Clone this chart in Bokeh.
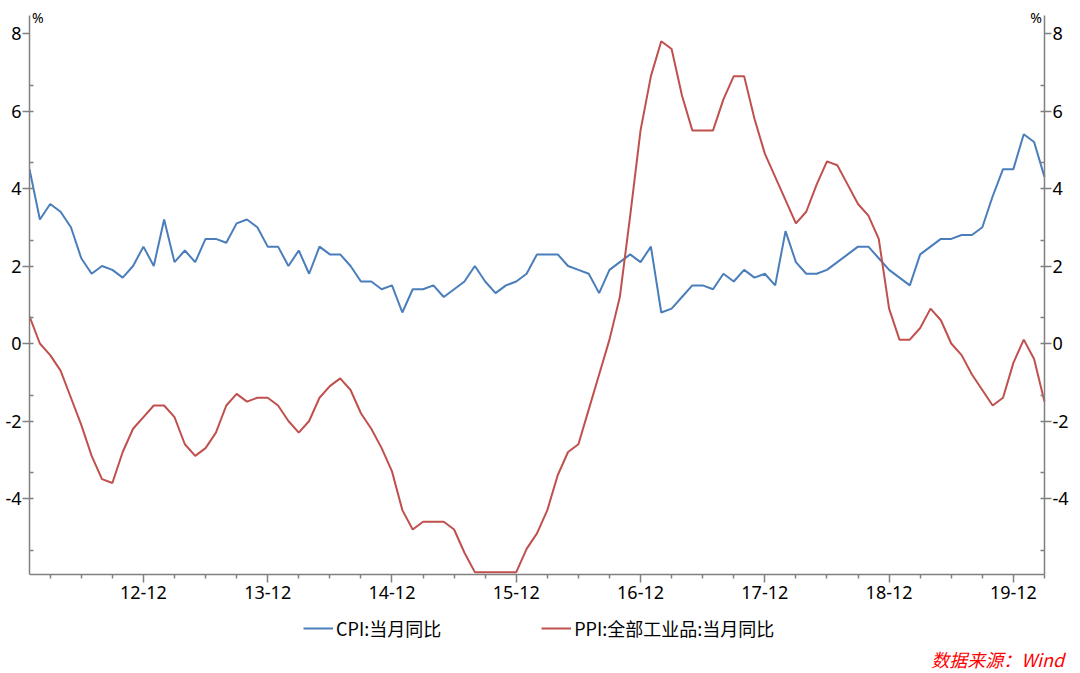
from bokeh.plotting import figure
from bokeh.models import Range1d, LinearAxis, FixedTicker, Legend, LegendItem, Label, ColumnDataSource
from bokeh.embed import file_html
from bokeh.resources import INLINE

# Monthly data, 2012-01 .. 2020-03
month_index = list(range(99))
cpi = [4.5, 3.2, 3.6, 3.4, 3.0, 2.2, 1.8, 2.0, 1.9, 1.7, 2.0, 2.5,
       2.0, 3.2, 2.1, 2.4, 2.1, 2.7, 2.7, 2.6, 3.1, 3.2, 3.0, 2.5,
       2.5, 2.0, 2.4, 1.8, 2.5, 2.3, 2.3, 2.0, 1.6, 1.6, 1.4, 1.5,
       0.8, 1.4, 1.4, 1.5, 1.2, 1.4, 1.6, 2.0, 1.6, 1.3, 1.5, 1.6,
       1.8, 2.3, 2.3, 2.3, 2.0, 1.9, 1.8, 1.3, 1.9, 2.1, 2.3, 2.1,
       2.5, 0.8, 0.9, 1.2, 1.5, 1.5, 1.4, 1.8, 1.6, 1.9, 1.7, 1.8,
       1.5, 2.9, 2.1, 1.8, 1.8, 1.9, 2.1, 2.3, 2.5, 2.5, 2.2, 1.9,
       1.7, 1.5, 2.3, 2.5, 2.7, 2.7, 2.8, 2.8, 3.0, 3.8, 4.5, 4.5,
       5.4, 5.2, 4.3]
ppi = [0.7, 0.0, -0.3, -0.7, -1.4, -2.1, -2.9, -3.5, -3.6, -2.8, -2.2, -1.9,
       -1.6, -1.6, -1.9, -2.6, -2.9, -2.7, -2.3, -1.6, -1.3, -1.5, -1.4, -1.4,
       -1.6, -2.0, -2.3, -2.0, -1.4, -1.1, -0.9, -1.2, -1.8, -2.2, -2.7, -3.3,
       -4.3, -4.8, -4.6, -4.6, -4.6, -4.8, -5.4, -5.9, -5.9, -5.9, -5.9, -5.9,
       -5.3, -4.9, -4.3, -3.4, -2.8, -2.6, -1.7, -0.8, 0.1, 1.2, 3.3, 5.5,
       6.9, 7.8, 7.6, 6.4, 5.5, 5.5, 5.5, 6.3, 6.9, 6.9, 5.8, 4.9,
       4.3, 3.7, 3.1, 3.4, 4.1, 4.7, 4.6, 4.1, 3.6, 3.3, 2.7, 0.9,
       0.1, 0.1, 0.4, 0.9, 0.6, 0.0, -0.3, -0.8, -1.2, -1.6, -1.4, -0.5,
       0.1, -0.4, -1.5]
x_tick_pos = [11, 23, 35, 47, 59, 71, 83, 95]
x_tick_labels = ["12-12", "13-12", "14-12", "15-12", "16-12", "17-12", "18-12", "19-12"]
x_minor_pos = [i for i in range(2, 99, 3) if i not in x_tick_pos]
y_ticks = [-4, -2, 0, 2, 4, 6, 8]
y_tick_labels = ["-4", "-2", "0", "2", "4", "6", "8"]
y_minor = [round(-16 / 3 + k * 2 / 3, 4) for k in range(20) if k % 3 != 1]
series_names = ["CPI:当月同比", "PPI:全部工业品:当月同比"]
series_colors = ["#4A7EBB", "#C0504D"]
source_text = "数据来源：Wind"

# value axis extent and the canvas extent (the area below the axes holds legend and note)
y_axis_lo, y_axis_hi = -5.96, 8.46
x_first, x_last = 0, 98
y_view = (-8.516, 8.671)
x_view = (0, 101.48)

p = figure(width=1080, height=673, output_backend="svg", toolbar_location=None,
           x_range=Range1d(*x_view), y_range=Range1d(*y_view),
           min_border_left=29, min_border_right=0, min_border_top=7, min_border_bottom=0)
p.outline_line_color = None
p.xgrid.visible = False
p.ygrid.visible = False
p.background_fill_color = "white"
p.border_fill_color = "white"

src = ColumnDataSource(dict(m=month_index, cpi=cpi, ppi=ppi))
r1 = p.line("m", "cpi", source=src, line_color=series_colors[0], line_width=2)
r2 = p.line("m", "ppi", source=src, line_color=series_colors[1], line_width=2)

right_axis = LinearAxis(fixed_location=x_last)
p.add_layout(right_axis, "right")

AX = "#808080"
def style(ax):
    ax.axis_line_color = AX
    ax.axis_line_width = 1.5
    ax.major_tick_line_color = AX
    ax.minor_tick_line_color = AX
    ax.major_tick_line_width = 1.5
    ax.minor_tick_line_width = 1.5
    ax.major_label_text_font = "Noto Sans"
    ax.major_label_text_font_size = "18px"
    ax.major_label_text_color = "#000000"

xa = p.xaxis[0]
style(xa)
xa.fixed_location = y_axis_lo
xa.bounds = (x_first, x_last)
xa.ticker = FixedTicker(ticks=x_tick_pos, minor_ticks=x_minor_pos)
xa.major_label_overrides = {k: v for k, v in zip(x_tick_pos, x_tick_labels)}
xa.major_tick_out = 8
xa.major_tick_in = 0
xa.minor_tick_out = 4
xa.minor_tick_in = 0
xa.major_label_standoff = 4

for ya in (p.yaxis[0], right_axis):
    style(ya)
    ya.bounds = (y_axis_lo, y_axis_hi)
    ya.ticker = FixedTicker(ticks=y_ticks, minor_ticks=y_minor)
    ya.major_label_overrides = {k: v for k, v in zip(y_ticks, y_tick_labels)}
    ya.major_tick_out = 7
    ya.major_tick_in = 0
    ya.minor_tick_out = 0
    ya.minor_tick_in = 4
    ya.major_label_standoff = 1

p.add_layout(Label(x=0.25, y=y_view[1], text="%", text_align="left", text_baseline="top",
                   text_font="Noto Sans", text_font_size="14px", text_color="#000000"))
p.add_layout(Label(x=97.75, y=y_view[1], text="%", text_align="right", text_baseline="top",
                   text_font="Noto Sans", text_font_size="14px", text_color="#000000"))

legend = Legend(items=[LegendItem(label=series_names[0], renderers=[r1]),
                       LegendItem(label=series_names[1], renderers=[r2])],
                orientation="horizontal", location=(274, 32),
                label_text_font="Noto Sans CJK SC", label_text_font_size="18px",
                label_text_color="#000000", label_height=20,
                glyph_width=30, glyph_height=20, label_standoff=3, spacing=100,
                padding=0, margin=0, border_line_alpha=0, background_fill_alpha=0)
p.add_layout(legend, "center")

p.add_layout(Label(x=99.9, y=-8.15, text=source_text, text_align="right", text_baseline="middle",
                   text_color="#FF0000", text_font_style="italic",
                   text_font="Noto Sans CJK SC", text_font_size="18px"))

open("out.html", "w").write(file_html(p, INLINE))
